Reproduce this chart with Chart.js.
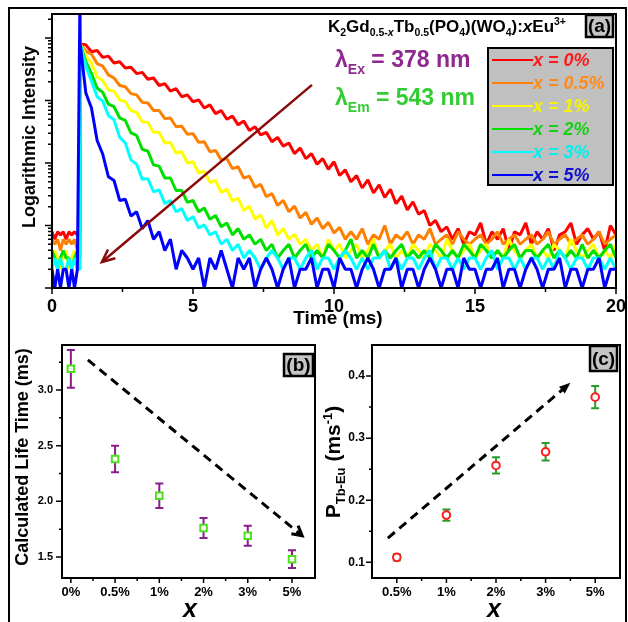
<!DOCTYPE html>
<html><head><meta charset="utf-8">
<script src="https://cdn.jsdelivr.net/npm/chart.js@4.4.1/dist/chart.umd.min.js"></script>
<style>
html,body{margin:0;padding:0;background:#fff;width:628px;height:622px;overflow:hidden}
canvas{position:absolute;left:0;top:0}
</style></head><body>
<canvas id="ca" width="628" height="622"></canvas>
<canvas id="cb" width="628" height="622"></canvas>
<canvas id="cc" width="628" height="622"></canvas>
<script>
// ---------- DATA ----------
// sample times (ms) of the decay curves
const times = [0,0.1,0.2,0.3,0.4,0.5,0.6,0.7,0.8,0.9,0.99,
1,1.2,1.4,1.6,1.8,2,2.2,2.4,2.6,2.8,
3,3.2,3.4,3.6,3.8,4,4.2,4.4,4.6,4.8,
5,5.2,5.4,5.6,5.8,6,6.2,6.4,6.6,6.8,
7,7.2,7.4,7.6,7.8,8,8.2,8.4,8.6,8.8,
9,9.2,9.4,9.6,9.8,10,10.2,10.4,10.6,10.8,
11,11.2,11.4,11.6,11.8,12,12.2,12.4,12.6,12.8,
13,13.2,13.4,13.6,13.8,14,14.2,14.4,14.6,14.8,
15,15.2,15.4,15.6,15.8,16,16.2,16.4,16.6,16.8,
17,17.2,17.4,17.6,17.8,18,18.2,18.4,18.6,18.8,
19,19.2,19.4,19.6,19.8,20];
// log10 of intensity (counts)
const logRed = [0.90,0.78,0.90,0.85,0.90,0.78,0.90,0.85,0.90,0.85,0.90,
3.90,3.89,3.78,3.80,3.69,3.71,3.60,3.62,3.52,3.53,
3.43,3.45,3.34,3.36,3.24,3.27,3.15,3.19,3.06,3.09,
2.98,3.01,2.88,2.93,2.79,2.84,2.70,2.75,2.61,2.67,
2.52,2.58,2.45,2.49,2.34,2.41,2.27,2.32,2.15,2.24,
2.07,2.15,1.98,2.07,1.90,2.02,1.80,1.89,1.70,1.80,
1.60,1.73,1.52,1.65,1.45,1.58,1.35,1.47,1.25,1.38,
1.18,1.24,1.00,1.08,0.90,0.98,0.78,0.95,0.70,0.90,
0.85,1.04,0.70,0.90,0.78,0.95,0.60,0.90,0.85,1.04,
0.70,0.90,0.78,0.95,0.60,0.85,0.90,1.04,0.70,0.85,
0.95,0.78,0.90,0.60,1.00,0.85];
const logOrange = [0.78,0.70,0.78,0.60,0.78,0.70,0.78,0.70,0.78,0.60,0.78,
3.90,3.79,3.74,3.59,3.55,3.41,3.36,3.24,3.22,3.11,
3.09,2.97,2.96,2.84,2.84,2.71,2.72,2.58,2.59,2.46,
2.47,2.33,2.34,2.18,2.20,2.05,2.07,1.91,1.94,1.76,
1.79,1.61,1.66,1.46,1.51,1.32,1.40,1.22,1.31,1.12,
1.21,1.02,1.12,0.95,1.05,0.88,0.97,0.78,0.90,0.78,
0.95,0.70,0.85,0.78,1.00,0.70,0.85,0.78,0.90,0.70,
0.85,0.78,0.95,0.70,0.78,0.85,0.70,0.90,0.78,0.70,
0.78,0.85,0.70,0.78,0.90,0.70,0.78,0.85,0.70,0.78,
0.85,0.70,0.78,0.90,0.70,0.78,0.85,0.70,0.78,0.85,
0.70,0.78,0.90,0.70,0.78,0.85];
const logYellow = [0.48,0.60,0.48,0.30,0.48,0.60,0.30,0.48,0.60,0.48,0.48,
3.90,3.72,3.60,3.38,3.32,3.17,3.15,3.01,2.98,2.84,
2.81,2.66,2.65,2.49,2.49,2.32,2.33,2.16,2.18,2.00,
2.02,1.84,1.87,1.69,1.72,1.53,1.58,1.39,1.44,1.24,
1.31,1.10,1.17,0.96,1.08,0.85,0.95,0.78,0.86,0.70,
0.78,0.60,0.70,0.48,0.78,0.60,0.70,0.48,0.60,0.70,
0.48,0.60,0.78,0.48,0.60,0.70,0.48,0.60,0.48,0.70,
0.60,0.48,0.70,0.60,0.48,0.78,0.60,0.48,0.60,0.70,
0.48,0.60,0.70,0.48,0.60,0.48,0.78,0.60,0.48,0.60,
0.70,0.48,0.60,0.48,0.70,0.60,0.48,0.78,0.60,0.48,
0.60,0.70,0.48,0.60,0.48,0.70];
const logGreen = [0.60,0.48,0.30,0.48,0.60,0.48,0.48,0.30,0.48,0.60,0.48,
3.90,3.62,3.43,3.20,3.13,2.94,2.90,2.72,2.68,2.48,
2.44,2.22,2.19,1.97,1.95,1.76,1.76,1.56,1.56,1.37,
1.40,1.22,1.28,1.10,1.16,0.98,1.04,0.85,0.95,0.78,
0.85,0.70,0.78,0.60,0.70,0.48,0.60,0.70,0.48,0.60,
0.70,0.48,0.60,0.48,0.70,0.60,0.48,0.60,0.78,0.48,
0.60,0.48,0.70,0.48,0.60,0.48,0.60,0.70,0.48,0.60,
0.48,0.60,0.48,0.70,0.60,0.48,0.60,0.48,0.70,0.60,
0.48,0.70,0.60,0.48,0.60,0.48,0.60,0.70,0.48,0.60,
0.60,0.48,0.60,0.70,0.48,0.60,0.48,0.60,0.48,0.70,
0.48,0.60,0.48,0.60,0.70,0.48];
const logCyan = [0.30,0.48,0.30,0.48,0.30,0.30,0.48,0.30,0.48,0.30,0.30,
3.90,3.55,3.31,3.06,2.99,2.76,2.69,2.41,2.32,2.05,
1.98,1.74,1.75,1.54,1.57,1.35,1.40,1.22,1.27,1.08,
1.14,0.96,1.01,0.85,0.90,0.70,0.78,0.60,0.70,0.48,
0.60,0.48,0.30,0.48,0.60,0.48,0.30,0.48,0.48,0.30,
0.48,0.60,0.30,0.48,0.48,0.30,0.48,0.60,0.48,0.30,
0.48,0.30,0.48,0.48,0.60,0.30,0.48,0.30,0.48,0.48,
0.30,0.48,0.60,0.30,0.48,0.48,0.30,0.48,0.30,0.48,
0.48,0.30,0.48,0.60,0.30,0.48,0.48,0.30,0.48,0.30,
0.48,0.48,0.30,0.48,0.30,0.60,0.48,0.30,0.48,0.48,
0.30,0.48,0.48,0.30,0.48,0.30];
const logBlue = [0.30,0,0.30,0,0.30,0.30,0,0.30,0,0.30,4.60,
3.90,3.12,2.88,2.36,2.14,1.78,1.72,1.40,1.42,1.15,
1.22,0.95,1.08,0.78,0.90,0.60,0.78,0.30,0.60,0.48,
0.30,0.48,0,0.48,0.30,0.60,0.30,0,0.48,0.30,
0.48,0,0.30,0.48,0.30,0,0.30,0.48,0,0.30,
0.30,0.48,0,0.30,0.30,0,0.48,0.30,0.30,0,
0.30,0.48,0.30,0,0.30,0.30,0.48,0,0.30,0.30,
0,0.30,0.48,0.30,0,0.30,0.30,0,0.48,0.30,
0.30,0,0.30,0.30,0.48,0,0.30,0.30,0,0.30,
0.48,0.30,0,0.30,0.30,0.48,0,0.30,0.30,0,
0.30,0.30,0.48,0,0.30,0.30];
const seriesNames = ['x = 0%','x = 0.5%','x = 1%','x = 2%','x = 3%','x = 5%'];
const timeTicks = [0,5,10,15,20];

// panel (b)
const lifetimeCats = ['0%','0.5%','1%','2%','3%','5%'];
const lifetime = [3.19,2.38,2.05,1.76,1.69,1.48];
const lifetimeErr = [0.17,0.12,0.11,0.09,0.09,0.08];
const lifetimeTicks = [1.5,2.0,2.5,3.0];
// panel (c)
const transferCats = ['0.5%','1%','2%','3%','5%'];
const transfer = [0.108,0.176,0.256,0.278,0.366];
const transferErr = [0.005,0.009,0.013,0.014,0.018];
const transferTicks = [0.1,0.2,0.3,0.4];

// ---------- HELPERS ----------
const FF = '"Liberation Sans", Arial, Helvetica, sans-serif';
Chart.defaults.font.family = FF;
const f = (s, st='') => `${st} bold ${s}px ${FF}`;

function rich(ctx, x, y, parts, align) {
  let w = 0;
  parts.forEach(p => { ctx.font = p[1]; w += ctx.measureText(p[0]).width; });
  let cx = align === 'center' ? x - w / 2 : x;
  ctx.textBaseline = 'alphabetic'; ctx.textAlign = 'left';
  parts.forEach(p => {
    ctx.font = p[1]; ctx.fillStyle = p[3] || '#000';
    ctx.fillText(p[0], cx, y + (p[2] || 0));
    cx += ctx.measureText(p[0]).width;
  });
}
function rotRich(ctx, x, y, parts) {
  ctx.save(); ctx.translate(x, y); ctx.rotate(-Math.PI / 2);
  rich(ctx, 0, 0, parts, 'center'); ctx.restore();
}
function arrow(ctx, x1, y1, x2, y2, o) {
  const ang = Math.atan2(y2 - y1, x2 - x1);
  ctx.save();
  ctx.strokeStyle = o.color; ctx.fillStyle = o.color; ctx.lineWidth = o.width;
  ctx.lineCap = 'butt';
  ctx.setLineDash(o.dash || []);
  ctx.beginPath(); ctx.moveTo(x1, y1);
  ctx.lineTo(x2 - (o.filled ? o.head * 0.7 * Math.cos(ang) : 0), y2 - (o.filled ? o.head * 0.7 * Math.sin(ang) : 0));
  ctx.stroke();
  ctx.setLineDash([]);
  const a1 = ang + Math.PI - o.spread, a2 = ang + Math.PI + o.spread;
  ctx.beginPath();
  ctx.moveTo(x2 + o.head * Math.cos(a1), y2 + o.head * Math.sin(a1));
  ctx.lineTo(x2, y2);
  ctx.lineTo(x2 + o.head * Math.cos(a2), y2 + o.head * Math.sin(a2));
  if (o.filled) { ctx.closePath(); ctx.fill(); } else ctx.stroke();
  ctx.restore();
}
function frameAndTicks(chart, spec) {
  const { ctx, chartArea: a, scales: { x, y } } = chart;
  ctx.save(); ctx.strokeStyle = '#000'; ctx.lineWidth = 1.5;
  ctx.beginPath();
  spec.x.forEach(([v, len]) => { const px = x.getPixelForValue(v); ctx.moveTo(px, a.bottom); ctx.lineTo(px, a.bottom + len); });
  spec.y.forEach(([v, len]) => { const py = y.getPixelForValue(v); ctx.moveTo(a.left, py); ctx.lineTo(a.left - len, py); });
  ctx.stroke();
  ctx.lineWidth = 2;
  ctx.strokeRect(a.left, a.top, a.right - a.left, a.bottom - a.top);
  ctx.restore();
}
function labelBox(ctx, x, y, w, h, txt) {
  ctx.save();
  ctx.fillStyle = '#c4c4c4'; ctx.fillRect(x, y, w, h);
  ctx.strokeStyle = '#000'; ctx.lineWidth = 2.5; ctx.strokeRect(x, y, w, h);
  ctx.fillStyle = '#000'; ctx.font = f(19); ctx.textAlign = 'center'; ctx.textBaseline = 'middle';
  ctx.fillText(txt, x + w / 2, y + h / 2 + 1);
  ctx.restore();
}
function errorBars(chart) {
  const { ctx, scales: { x, y } } = chart;
  chart.data.datasets.forEach(ds => {
    if (!ds.errs) return;
    ctx.save(); ctx.strokeStyle = ds.errColor; ctx.lineWidth = 2;
    ds.data.forEach((p, i) => {
      const px = x.getPixelForValue(p.x);
      const t = y.getPixelForValue(p.y + ds.errs[i]), b = y.getPixelForValue(p.y - ds.errs[i]);
      ctx.beginPath();
      ctx.moveTo(px, t); ctx.lineTo(px, b);
      ctx.moveTo(px - 4, t); ctx.lineTo(px + 4, t);
      ctx.moveTo(px - 4, b); ctx.lineTo(px + 4, b);
      ctx.stroke();
    });
    ctx.restore();
  });
}
const fixX = h => s => { s.height = h; s.paddingLeft = 0; s.paddingRight = 0; };
const fixY = w => s => { s.width = w; s.paddingTop = 0; s.paddingBottom = 0; };

// ---------- PANEL (a) ----------
const colors = ['#ff0000', '#ff8000', '#ffff00', '#00e000', '#00ffff', '#0000ff'];
const textColors = ['#ff1a1a', '#ff8a1a', '#f4f400', '#16d016', '#00f0f0', '#1010d0'];
const logSeries = [logRed, logOrange, logYellow, logGreen, logCyan, logBlue];

const yMinorA = [];
[1, 10, 100, 1000, 10000].forEach(d => { for (let k = 2; k <= 9; k++) if (k * d < 24200) yMinorA.push([k * d, 4]); });
const tickSpecA = {
  x: [[0, 6], [5, 6], [10, 6], [15, 6], [20, 6], [2.5, 4], [7.5, 4], [12.5, 4], [17.5, 4]],
  y: [[1, 7], [10, 7], [100, 7], [1000, 7], [10000, 7], ...yMinorA]
};
const arrowA = { from: [9.22, 1780], to: [1.77, 2.6] };

const pluginA = {
  id: 'pa',
  afterDatasetsDraw(chart) {
    const { ctx, scales: { x, y } } = chart;
    arrow(ctx, x.getPixelForValue(arrowA.from[0]), y.getPixelForValue(arrowA.from[1]),
      x.getPixelForValue(arrowA.to[0]), y.getPixelForValue(arrowA.to[1]),
      { color: '#8b0a0a', width: 2.5, head: 14, spread: 0.42 });
  },
  afterDraw(chart) {
    const { ctx } = chart;
    frameAndTicks(chart, tickSpecA);
    // outer frame
    ctx.save(); ctx.strokeStyle = '#000'; ctx.lineWidth = 2;
    ctx.beginPath(); ctx.moveTo(9, 622); ctx.lineTo(9, 8); ctx.lineTo(626, 8); ctx.lineTo(626, 622); ctx.stroke();
    ctx.restore();
    // title formula
    const M = f(17), S = f(10.5), MI = f(17, 'italic'), SI = f(10.5, 'italic');
    rich(ctx, 328, 32, [['K', M], ['2', S, 4], ['Gd', M], ['0.5-', S, 4], ['x', SI, 4], ['Tb', M], ['0.5', S, 4],
      ['(PO', M], ['4', S, 4], [')(WO', M], ['4', S, 4], ['):', M], ['x', MI], ['Eu', M], ['3+', S, -7]]);
    rich(ctx, 335, 67, [['λ', f(23), 0, '#8e2a8e'], ['Ex', f(14), 7, '#8e2a8e'], [' = 378 nm', f(23), 0, '#8e2a8e']]);
    rich(ctx, 335, 105, [['λ', f(23), 0, '#33cc33'], ['Em', f(14), 7, '#33cc33'], [' = 543 nm', f(23), 0, '#33cc33']]);
    // legend box
    ctx.save();
    ctx.fillStyle = '#c0c0c0'; ctx.fillRect(488, 48, 125, 137);
    ctx.strokeStyle = '#000'; ctx.lineWidth = 2; ctx.strokeRect(488, 48, 125, 137);
    seriesNames.forEach((n, i) => {
      const yy = 60 + i * 23;
      ctx.strokeStyle = colors[i]; ctx.lineWidth = 2;
      ctx.beginPath(); ctx.moveTo(492, yy); ctx.lineTo(533, yy); ctx.stroke();
      ctx.fillStyle = textColors[i]; ctx.font = f(18, 'italic'); ctx.textBaseline = 'middle'; ctx.textAlign = 'left';
      ctx.fillText(n, 533, yy + 1);
    });
    ctx.restore();
    labelBox(ctx, 586, 15, 27, 22, '(a)');
    // axis titles
    rotRich(ctx, 35, 137, [['Logarithmic Intensity', f(18)]]);
    rich(ctx, 338, 324, [['Time (ms)', f(19)]], 'center');
  }
};

new Chart(document.getElementById('ca'), {
  type: 'line',
  data: {
    datasets: logSeries.map((vals, i) => ({
      label: seriesNames[i],
      data: times.map((t, k) => ({ x: t, y: Math.pow(10, vals[k]) })),
      borderColor: colors[i], borderWidth: 3, borderJoinStyle: 'bevel', pointRadius: 0, tension: 0, fill: false, order: 5 - i
    }))
  },
  options: {
    responsive: false, animation: false, events: [],
    layout: { padding: { left: 0, top: 14, right: 12, bottom: 292 } },
    plugins: { legend: { display: false }, tooltip: { enabled: false } },
    scales: {
      x: {
        type: 'linear', min: 0, max: 20,
        grid: { display: false, drawTicks: false }, border: { display: false },
        afterBuildTicks: s => { s.ticks = timeTicks.map(v => ({ value: v })); },
        ticks: { font: { size: 18, weight: 'bold' }, color: '#000', padding: 8, maxRotation: 0, autoSkip: false, callback: v => String(v) },
        afterFit: fixX(42)
      },
      y: {
        type: 'logarithmic', min: 1, max: 24200,
        grid: { display: false, drawTicks: false }, border: { display: false },
        ticks: { display: false },
        afterFit: fixY(52)
      }
    }
  },
  plugins: [pluginA]
});

// ---------- PANEL (b) ----------
const arrowB = { from: [0.385, 3.27], to: [5.23, 1.69] };
const tickSpecB = {
  x: [[0, 5], [1, 5], [2, 5], [3, 5], [4, 5], [5, 5], [0.5, 3], [1.5, 3], [2.5, 3], [3.5, 3], [4.5, 3]],
  y: [[1.5, 6], [2, 6], [2.5, 6], [3, 6], [1.75, 3], [2.25, 3], [2.75, 3], [3.25, 3]]
};
const pluginB = {
  id: 'pb',
  beforeDatasetsDraw: errorBars,
  afterDraw(chart) {
    const { ctx, scales: { x, y } } = chart;
    frameAndTicks(chart, tickSpecB);
    arrow(ctx, x.getPixelForValue(arrowB.from[0]), y.getPixelForValue(arrowB.from[1]),
      x.getPixelForValue(arrowB.to[0]), y.getPixelForValue(arrowB.to[1]),
      { color: '#000', width: 3, dash: [9, 6], head: 11, spread: 0.5 });
    labelBox(ctx, 284, 354, 29, 22, '(b)');
    rotRich(ctx, 28, 457, [['Calculated Life Time (ms)', f(18)]]);
    rich(ctx, 190, 617, [['x', f(25, 'italic')]], 'center');
  }
};
new Chart(document.getElementById('cb'), {
  type: 'scatter',
  data: {
    datasets: [{
      data: lifetime.map((v, i) => ({ x: i, y: v })), errs: lifetimeErr, errColor: '#8b1c8b',
      pointStyle: 'rect', pointRadius: 4.6, pointBorderWidth: 2, pointBorderColor: '#4ee01e', pointBackgroundColor: '#ffffff'
    }]
  },
  options: {
    responsive: false, animation: false, events: [],
    layout: { padding: { left: 0, top: 345, right: 313, bottom: 0 } },
    plugins: { legend: { display: false }, tooltip: { enabled: false } },
    scales: {
      x: {
        type: 'linear', min: -0.2, max: 5.52,
        grid: { display: false, drawTicks: false }, border: { display: false },
        afterBuildTicks: s => { s.ticks = lifetimeCats.map((c, i) => ({ value: i })); },
        ticks: { font: { size: 13, weight: 'bold' }, color: '#000', padding: 7, maxRotation: 0, autoSkip: false, callback: v => lifetimeCats[v] ?? '' },
        afterFit: fixX(44)
      },
      y: {
        type: 'linear', min: 1.311, max: 3.404,
        grid: { display: false, drawTicks: false }, border: { display: false },
        afterBuildTicks: s => { s.ticks = lifetimeTicks.map(v => ({ value: v })); },
        ticks: { font: { size: 11, weight: 'bold' }, color: '#000', padding: 9, autoSkip: false, callback: v => v.toFixed(1) },
        afterFit: fixY(62)
      }
    }
  },
  plugins: [pluginB]
});

// ---------- PANEL (c) ----------
const arrowC = { from: [-0.18, 0.139], to: [3.5, 0.389] };
const tickSpecC = {
  x: [[0, 5], [1, 5], [2, 5], [3, 5], [4, 5], [0.5, 3], [1.5, 3], [2.5, 3], [3.5, 3]],
  y: [[0.1, 6], [0.2, 6], [0.3, 6], [0.4, 6], [0.15, 3], [0.25, 3], [0.35, 3]]
};
const pluginC = {
  id: 'pc',
  beforeDatasetsDraw: errorBars,
  afterDraw(chart) {
    const { ctx, scales: { x, y } } = chart;
    frameAndTicks(chart, tickSpecC);
    arrow(ctx, x.getPixelForValue(arrowC.from[0]), y.getPixelForValue(arrowC.from[1]),
      x.getPixelForValue(arrowC.to[0]), y.getPixelForValue(arrowC.to[1]),
      { color: '#000', width: 3, dash: [9, 6], head: 12, spread: 0.38, filled: true });
    labelBox(ctx, 590, 346, 27, 25, '(c)');
    rotRich(ctx, 340, 462, [['P', f(21)], ['Tb-Eu', f(13), 5], [' (ms', f(21)], ['-1', f(13), -8], [')', f(21)]]);
    rich(ctx, 494, 617, [['x', f(25, 'italic')]], 'center');
  }
};
new Chart(document.getElementById('cc'), {
  type: 'scatter',
  data: {
    datasets: [{
      data: transfer.map((v, i) => ({ x: i, y: v })), errs: transferErr, errColor: '#2a9a2a',
      pointStyle: 'circle', pointRadius: 3.8, pointBorderWidth: 2, pointBorderColor: '#ff1a1a', pointBackgroundColor: '#ffffff'
    }]
  },
  options: {
    responsive: false, animation: false, events: [],
    layout: { padding: { left: 316, top: 345, right: 8, bottom: 0 } },
    plugins: { legend: { display: false }, tooltip: { enabled: false } },
    scales: {
      x: {
        type: 'linear', min: -0.5, max: 4.5,
        grid: { display: false, drawTicks: false }, border: { display: false },
        afterBuildTicks: s => { s.ticks = transferCats.map((c, i) => ({ value: i })); },
        ticks: { font: { size: 13, weight: 'bold' }, color: '#000', padding: 7, maxRotation: 0, autoSkip: false, callback: v => transferCats[v] ?? '' },
        afterFit: fixX(44)
      },
      y: {
        type: 'linear', min: 0.0747, max: 0.450,
        grid: { display: false, drawTicks: false }, border: { display: false },
        afterBuildTicks: s => { s.ticks = transferTicks.map(v => ({ value: v })); },
        ticks: { font: { size: 12, weight: 'bold' }, color: '#000', padding: 7, autoSkip: false, callback: v => v.toFixed(1) },
        afterFit: fixY(56)
      }
    }
  },
  plugins: [pluginC]
});
</script>
</body></html>
